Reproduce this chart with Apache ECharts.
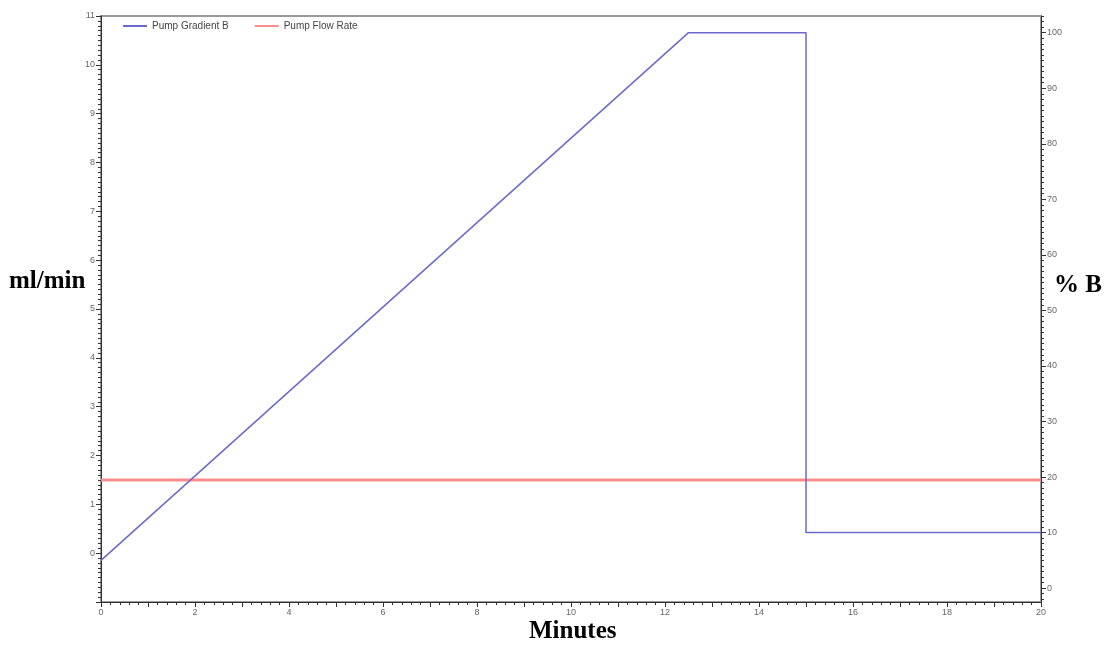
<!DOCTYPE html>
<html>
<head>
<meta charset="utf-8">
<script src="https://cdn.jsdelivr.net/npm/echarts@6/dist/echarts.min.js"></script>
<style>
html,body{margin:0;padding:0;background:#fff;}
#chart{width:1107px;height:647px;}
</style>
</head>
<body>
<div id="chart"></div>
<script>
// ---- data ----
var seriesNames = ['Pump Gradient B', 'Pump Flow Rate'];
var gradientTime = [0, 12.5, 15, 15, 20];
var gradientPercentB = [5, 100, 100, 10, 10];
var flowTime = [0, 20];
var flowRate = [1.5, 1.5];
var leftTicks = [0, 1, 2, 3, 4, 5, 6, 7, 8, 9, 10, 11];
var rightTicks = [0, 10, 20, 30, 40, 50, 60, 70, 80, 90, 100];
var xTicks = [0, 2, 4, 6, 8, 10, 12, 14, 16, 18, 20];
var titles = { left: 'ml/min', right: '% B', bottom: 'Minutes' };

function pairs(xs, ys) { return xs.map(function (x, i) { return [x, ys[i]]; }); }
var rightMinor = []; for (var v = -2; v <= 103; v++) rightMinor.push(v);
var xMid = []; for (var m = 1; m < 20; m += 2) xMid.push(m);

var chart = echarts.init(document.getElementById('chart'), null, { renderer: 'canvas' });
var labelStyle = { fontFamily: 'Arial, Liberation Sans, sans-serif', fontSize: 9, color: '#666' };
var lineStyle = { color: '#333', width: 1 };

chart.setOption({
  animation: false,
  backgroundColor: '#fff',
  grid: { left: 101, right: 66, top: 16, bottom: 45, show: true, borderColor: '#9a9a9a', borderWidth: 2 },
  legend: {
    left: 118, top: 16, itemWidth: 24, itemHeight: 2, itemGap: 26,
    icon: 'rect',
    textStyle: { fontFamily: 'Arial, Liberation Sans, sans-serif', fontSize: 10, color: '#444' },
    data: seriesNames
  },
  xAxis: [{
    type: 'value', min: 0, max: 20, interval: 2, position: 'bottom',
    axisLine: { show: true, onZero: false, lineStyle: lineStyle },
    axisTick: { show: true, inside: false, length: 5, lineStyle: lineStyle },
    minorTick: { show: true, splitNumber: 10, length: 3, lineStyle: lineStyle },
    axisLabel: Object.assign({ margin: 6, customValues: xTicks }, labelStyle),
    splitLine: { show: false }
  }, {
    type: 'value', min: 0, max: 20, position: 'bottom',
    axisLine: { show: false, onZero: false },
    axisTick: { show: true, length: 5, customValues: xMid, lineStyle: lineStyle },
    axisLabel: { show: false },
    splitLine: { show: false }
  }],
  yAxis: [{
    type: 'value', min: -1, max: 11, interval: 1, position: 'left',
    axisLine: { show: true, onZero: false, lineStyle: lineStyle },
    axisTick: { show: true, length: 5, lineStyle: lineStyle },
    minorTick: { show: true, splitNumber: 10, length: 3, lineStyle: lineStyle },
    axisLabel: Object.assign({ margin: 6, customValues: leftTicks }, labelStyle),
    splitLine: { show: false }
  }, {
    type: 'value', min: -2.5, max: 103, position: 'right',
    axisLine: { show: true, onZero: false, lineStyle: lineStyle },
    axisTick: { show: true, length: 5, customValues: rightTicks, lineStyle: lineStyle },
    axisLabel: Object.assign({ margin: 6, customValues: rightTicks }, labelStyle),
    splitLine: { show: false }
  }, {
    type: 'value', min: -2.5, max: 103, position: 'right',
    axisLine: { show: false, onZero: false },
    axisTick: { show: true, length: 3, customValues: rightMinor, lineStyle: lineStyle },
    axisLabel: { show: false },
    splitLine: { show: false }
  }],
  series: [{
    name: seriesNames[0], type: 'line', xAxisIndex: 0, yAxisIndex: 1,
    data: pairs(gradientTime, gradientPercentB),
    symbol: 'none', lineStyle: { color: '#6a6acc', width: 1.5 }, itemStyle: { color: '#6a6acc' }, z: 3
  }, {
    name: seriesNames[1], type: 'line', xAxisIndex: 0, yAxisIndex: 0,
    data: pairs(flowTime, flowRate),
    symbol: 'none', lineStyle: { color: '#ff8c8c', width: 3 }, itemStyle: { color: '#ff8c8c' }, z: 2
  }],
  graphic: [
    { type: 'text', left: 9, top: 269, style: { text: titles.left, font: 'bold 25px "Liberation Serif", "Times New Roman", serif', fill: '#000' } },
    { type: 'text', left: 1054, top: 273, style: { text: titles.right, font: 'bold 25px "Liberation Serif", "Times New Roman", serif', fill: '#000' } },
    { type: 'text', left: 529, top: 619, style: { text: titles.bottom, font: 'bold 25px "Liberation Serif", "Times New Roman", serif', fill: '#000' } }
  ]
});
</script>
</body>
</html>
